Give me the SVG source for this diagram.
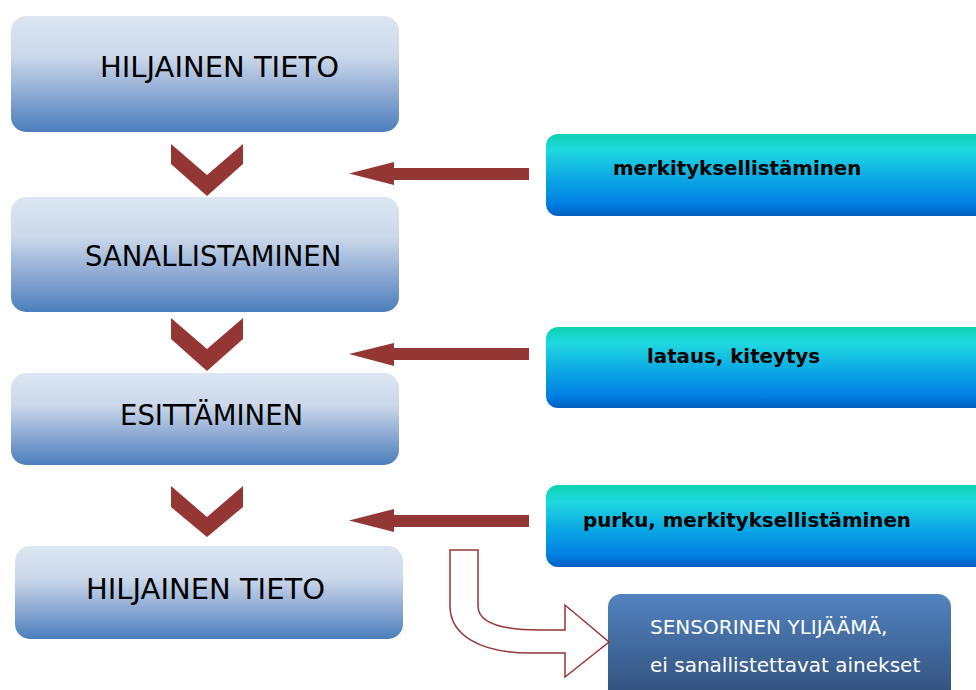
<svg xmlns="http://www.w3.org/2000/svg" width="976" height="690" viewBox="0 0 976 690">
<defs>
<linearGradient id="gBox" x1="0" y1="0" x2="0" y2="1">
<stop offset="0" stop-color="#dce6f2"/>
<stop offset="0.35" stop-color="#cbd8ea"/>
<stop offset="0.7" stop-color="#88a6d1"/>
<stop offset="1" stop-color="#4b7ebc"/>
</linearGradient>
<linearGradient id="gTeal" x1="0" y1="0" x2="0" y2="1">
<stop offset="0" stop-color="#0dd2b0"/>
<stop offset="0.2" stop-color="#1fd9df"/>
<stop offset="0.55" stop-color="#0ba6e4"/>
<stop offset="0.85" stop-color="#0280e2"/>
<stop offset="1" stop-color="#005ec4"/>
</linearGradient>
<linearGradient id="gDark" x1="0" y1="0" x2="0" y2="1">
<stop offset="0" stop-color="#5283c0"/>
<stop offset="1" stop-color="#2f4d78"/>
</linearGradient>
</defs>
<style>
.box{fill:url(#gBox)}
.teal{fill:url(#gTeal)}
.main{font-family:"DejaVu Sans",Verdana,sans-serif;fill:#000}
.side{font-family:"DejaVu Sans",Verdana,sans-serif;font-weight:bold;font-size:19.8px;fill:#000}
.white{font-family:"DejaVu Sans",Verdana,sans-serif;font-size:20px;fill:#fff}
.red{fill:#943634}
</style>

<g id="node-hiljainen-tieto-1">
<rect class="box" x="11" y="16" width="388" height="116" rx="15"/>
<text class="main" x="100" y="77" font-size="29">HILJAINEN TIETO</text>
</g>
<g id="node-sanallistaminen">
<rect class="box" x="11" y="197" width="388" height="115" rx="15"/>
<text class="main" x="85" y="266" font-size="27.5">SANALLISTAMINEN</text>
</g>
<g id="node-esittaminen">
<rect class="box" x="11" y="373" width="388" height="92" rx="15"/>
<text class="main" x="120" y="425" font-size="27.5">ESITTÄMINEN</text>
</g>
<g id="node-hiljainen-tieto-2">
<rect class="box" x="15" y="546" width="388" height="93" rx="15"/>
<text class="main" x="86" y="599" font-size="29">HILJAINEN TIETO</text>
</g>

<g id="node-merkityksellistaminen">
<rect class="teal" x="546" y="134" width="450" height="82" rx="12"/>
<text class="side" x="613" y="175">merkityksellistäminen</text>
</g>
<g id="node-lataus">
<rect class="teal" x="546" y="327" width="450" height="81" rx="12"/>
<text class="side" x="647" y="363">lataus, kiteytys</text>
</g>
<g id="node-purku">
<rect class="teal" x="546" y="485" width="450" height="82" rx="12"/>
<text class="side" x="583" y="527">purku, merkityksellistäminen</text>
</g>
<g id="node-sensorinen">
<rect x="608" y="594" width="343" height="110" rx="13" fill="url(#gDark)"/>
<text class="white" x="650" y="634">SENSORINEN YLIJÄÄMÄ,</text>
<text class="white" x="650" y="672">ei sanallistettavat ainekset</text>
</g>

<g id="connectors">
<polygon class="red" points="171,144 207,175 243,144 243,164 207,196 171,164"/>
<polygon class="red" points="171,318 207,349 243,318 243,339 207,371 171,339"/>
<polygon class="red" points="171,486 207,517 243,486 243,507 207,537 171,507"/>
<polygon class="red" points="349,173.5 394,162 394,168 529,168 529,180 394,180 394,185"/>
<polygon class="red" points="349,354 394,343 394,348 529,348 529,360 394,360 394,366"/>
<polygon class="red" points="349,520.5 394,509 394,515 529,515 529,527 394,527 394,532"/>
<path d="M450,550 H478 V606 C478,622 500,630 540,630 H565 V605 L609,642 L565,677 V653 H530 C480,653 450,635 450,606 Z" fill="#fff" stroke="#943634" stroke-width="1.5"/>
</g>
</svg>
